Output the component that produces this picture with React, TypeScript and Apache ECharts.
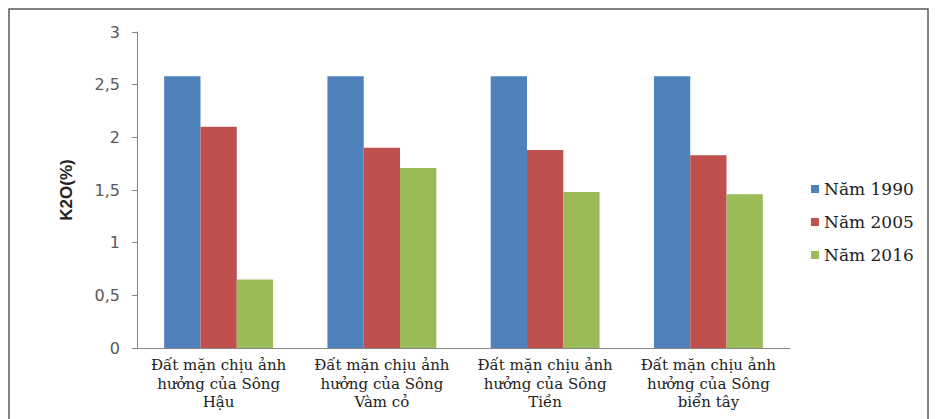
import React, { useEffect, useRef } from "react";
import * as echarts from "echarts";

const categories = [
  "Đất mặn chịu ảnh\nhưởng của Sông\nHậu",
  "Đất mặn chịu ảnh\nhưởng của Sông\nVàm cỏ",
  "Đất mặn chịu ảnh\nhưởng của Sông\nTiền",
  "Đất mặn chịu ảnh\nhưởng của Sông\nbiển tây",
];
const seriesNames = ["Năm 1990", "Năm 2005", "Năm 2016"];
const values1990 = [2.58, 2.58, 2.58, 2.58];
const values2005 = [2.1, 1.9, 1.88, 1.83];
const values2016 = [0.65, 1.71, 1.48, 1.46];
const colors = ["#4F81BD", "#C0504D", "#9BBB59"];
const yAxisName = "K2O(%)";

export default function App() {
  const ref = useRef<HTMLDivElement>(null);
  useEffect(() => {
    document.body.style.margin = "0";
    if (!ref.current) return;
    const chart = echarts.init(ref.current, undefined, { renderer: "svg" });
    const data = [values1990, values2005, values2016];
    chart.setOption({
      animation: false,
      backgroundColor: "#ffffff",
      graphic: [
        {
          type: "rect",
          shape: { x: 9, y: 9, width: 919, height: 430 },
          style: { fill: "none", stroke: "#5a5a5a", lineWidth: 1.5 },
          silent: true,
        },
      ],
      grid: { left: 137, right: 145, top: 32, bottom: 71, containLabel: false },
      legend: {
        orient: "vertical",
        left: 806,
        top: 174,
        itemWidth: 8,
        itemHeight: 8,
        itemGap: 13,
        icon: "rect",
        textStyle: {
          fontFamily: "DejaVu Serif",
          fontSize: 17,
          color: "#222",
          lineHeight: 20,
        },
        data: seriesNames,
      },
      xAxis: {
        type: "category",
        data: categories,
        axisLine: { lineStyle: { color: "#868686", width: 1 } },
        axisTick: { show: false },
        axisLabel: {
          interval: 0,
          margin: 8,
          fontFamily: "DejaVu Serif",
          fontSize: 15,
          lineHeight: 18.5,
          color: "#222",
        },
      },
      yAxis: {
        type: "value",
        min: 0,
        max: 3,
        interval: 0.5,
        name: yAxisName,
        nameLocation: "middle",
        nameGap: 62,
        nameTextStyle: {
          fontFamily: "Liberation Sans",
          fontWeight: "bold",
          fontSize: 17,
          color: "#222",
        },
        axisLine: { show: true, lineStyle: { color: "#868686", width: 1 } },
        axisTick: { show: true, length: 5, lineStyle: { color: "#868686" } },
        splitLine: { show: false },
        axisLabel: {
          margin: 17,
          fontFamily: "DejaVu Sans",
          fontSize: 16,
          color: "#595959",
          formatter: (v: number) => String(v).replace(".", ","),
        },
      },
      series: seriesNames.map((name, i) => ({
        name,
        type: "bar",
        data: data[i],
        barGap: "0%",
        barCategoryGap: "33.3%",
        itemStyle: { color: colors[i] },
      })),
    });
    return () => chart.dispose();
  }, []);
  return <div ref={ref} style={{ width: 935, height: 419 }} />;
}
